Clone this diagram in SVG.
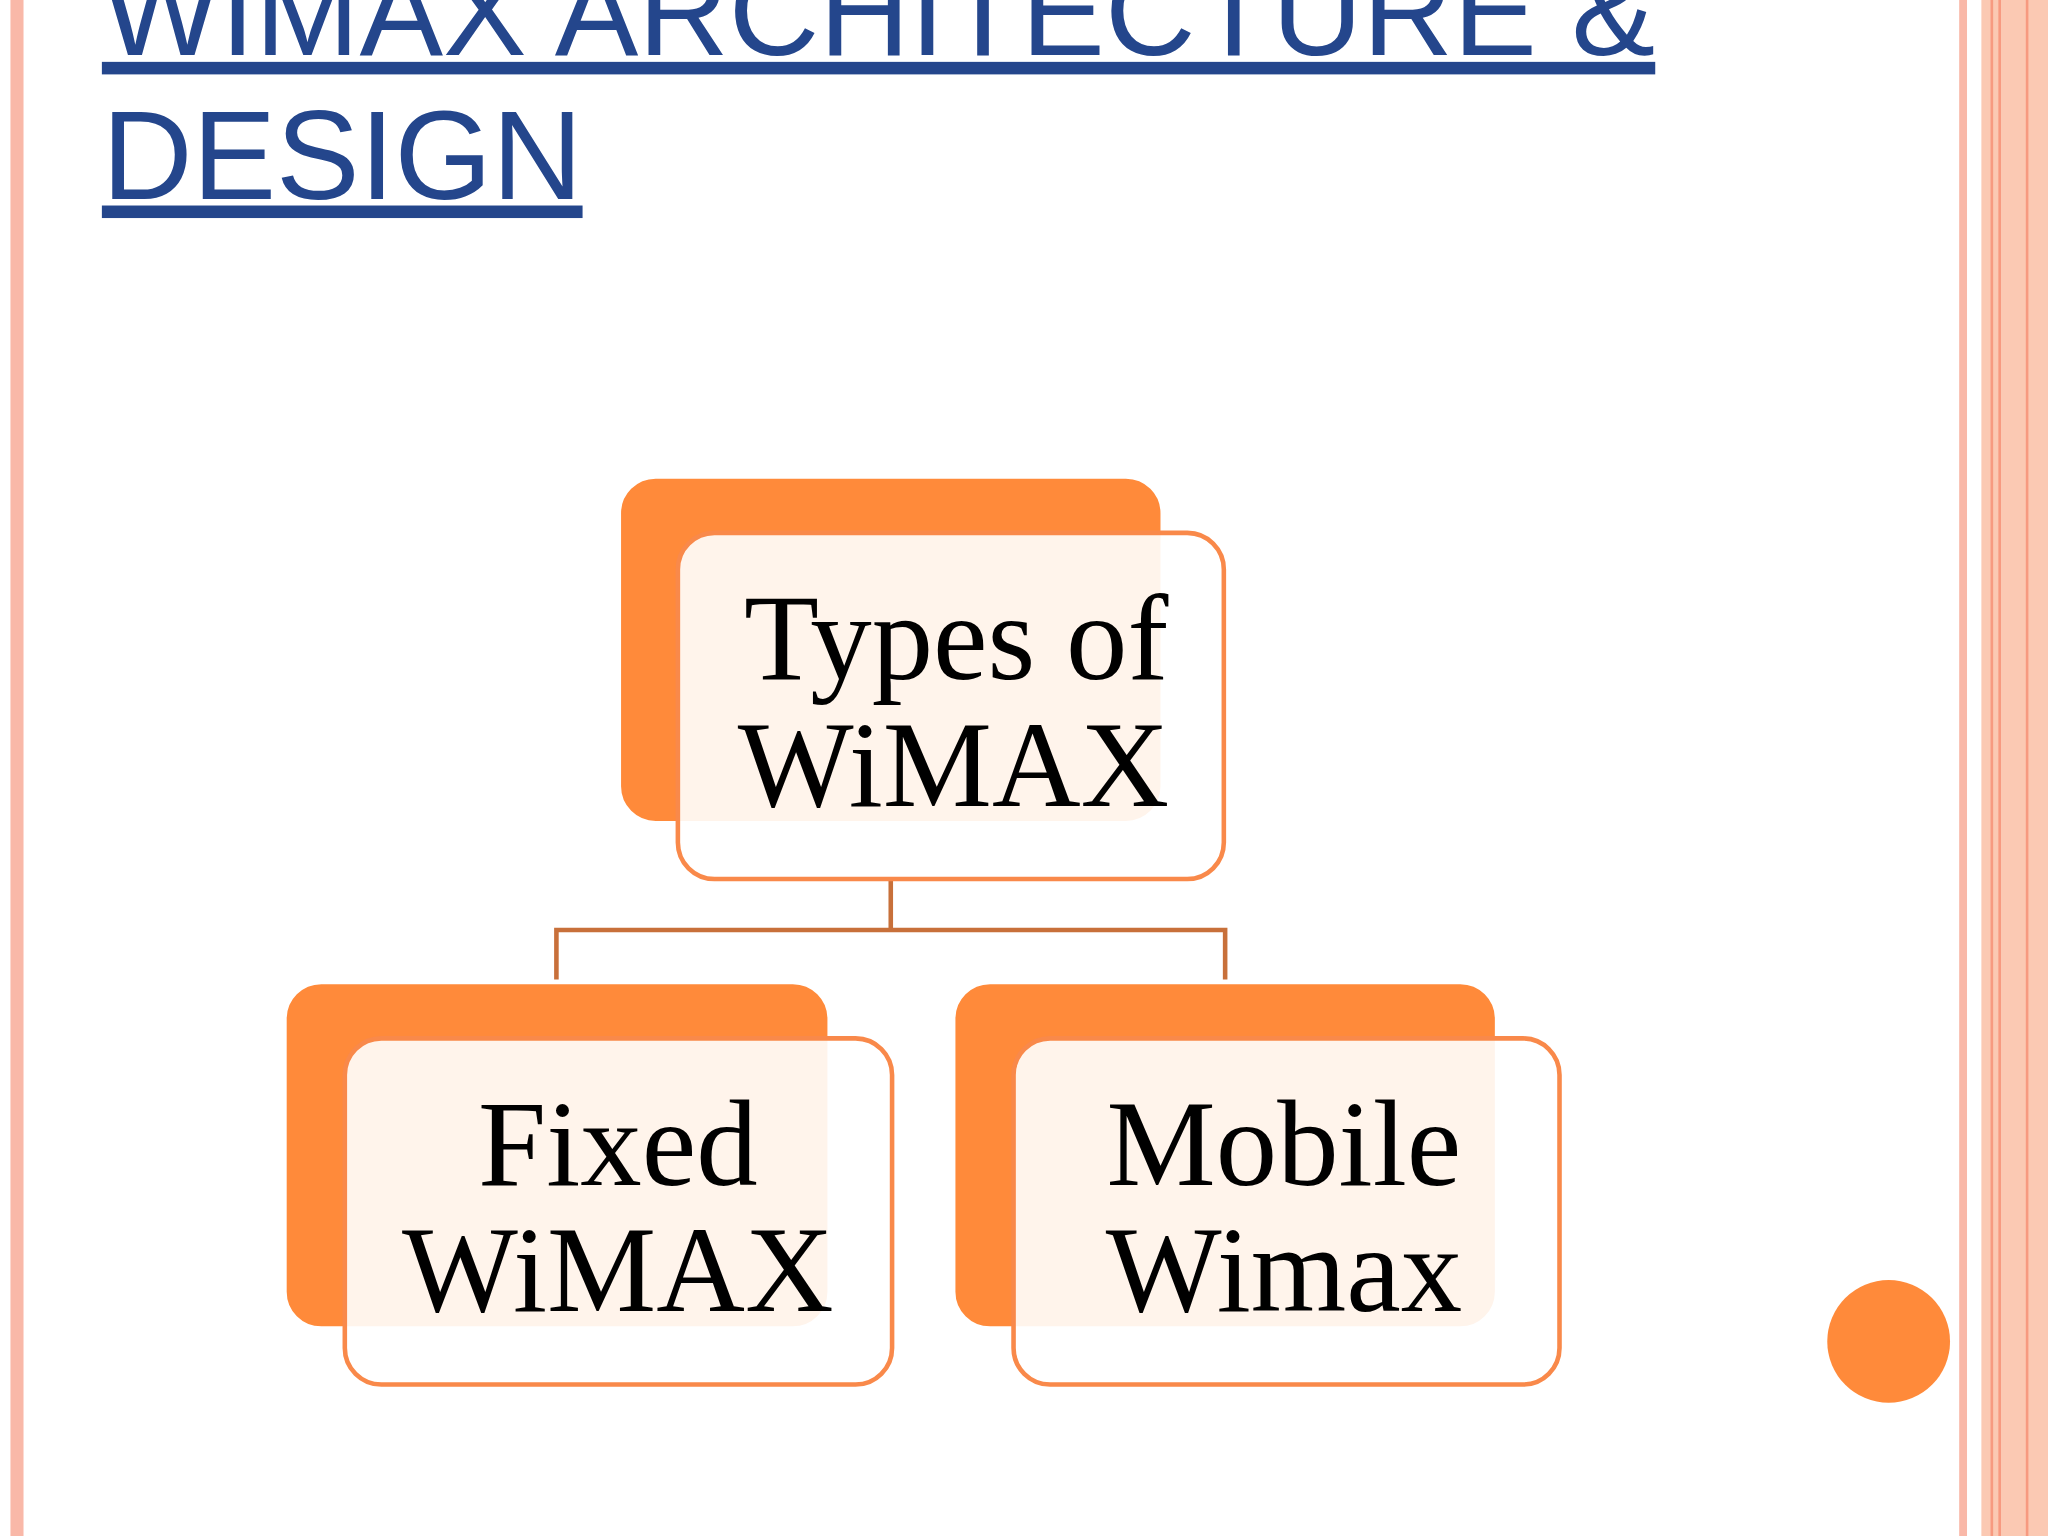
<svg xmlns="http://www.w3.org/2000/svg" width="2048" height="1536" viewBox="0 0 2048 1536">
<style>
.back{fill:#FF8A3A;stroke:#fff;stroke-width:3}
.front{fill:#fff;fill-opacity:0.9;stroke:#F9894A;stroke-width:3.5}
.lbl{font-family:"Liberation Serif","DejaVu Serif",serif;font-size:94px;fill:#000;text-anchor:middle}
.conn{fill:none;stroke:#C8703A;stroke-width:3.5}
.title{font-family:"Liberation Sans",Arial,sans-serif;font-size:96px;fill:#24468C;text-decoration:underline}
</style>
<rect width="2048" height="1536" fill="#fff"/>
<g transform="scale(1.30612)">
<rect x="8" y="0" width="10" height="1176" fill="#F9B8A8"/>
<rect x="1500" y="0" width="6" height="1176" fill="#F9B8A8"/>
<rect x="1517" y="0" width="51" height="1176" fill="#FBC9B3"/>
<rect x="1524" y="0" width="2" height="1176" fill="#F79A80"/>
<rect x="1530" y="0" width="2" height="1176" fill="#F79A80"/>
<rect x="1551" y="0" width="2" height="1176" fill="#F79A80"/>
<text class="title" x="78" y="42">WIMAX ARCHITECTURE &amp;</text>
<text class="title" x="78" y="152">DESIGN</text>
<g id="connectors">
<path class="conn" d="M682,673 V712 M426,750 V712 H938 V750"/>
</g>
<g id="n-types">
<rect class="back" x="474" y="365" width="416" height="265" rx="28"/>
<rect class="front" x="519" y="408" width="418" height="265" rx="28"/>
<text class="lbl" x="732" y="520">Types of</text>
<text class="lbl" x="730" y="617">WiMAX</text>
</g>
<g id="n-fixed">
<rect class="back" x="218" y="752" width="417" height="265" rx="28"/>
<rect class="front" x="264" y="795" width="419" height="265" rx="28"/>
<text class="lbl" x="473" y="907">Fixed</text>
<text class="lbl" x="473" y="1004">WiMAX</text>
</g>
<g id="n-mobile">
<rect class="back" x="730" y="752" width="416" height="265" rx="28"/>
<rect class="front" x="776" y="795" width="418" height="265" rx="28"/>
<text class="lbl" x="983" y="907">Mobile</text>
<text class="lbl" x="983" y="1004">Wimax</text>
</g>
<circle cx="1446" cy="1027" r="47" fill="#FF8A3A"/>
</g>
</svg>
